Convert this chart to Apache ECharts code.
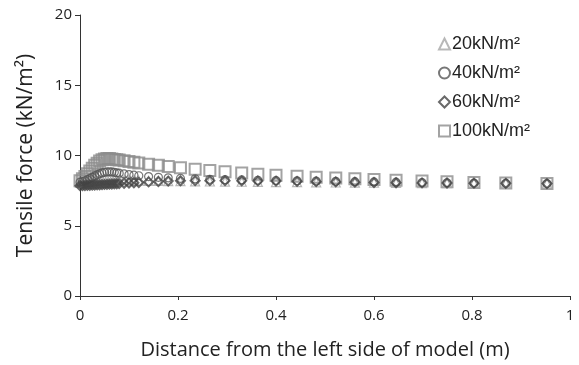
<!DOCTYPE html>
<html>
<head>
<meta charset="utf-8">
<script src="https://cdn.jsdelivr.net/npm/echarts@6/dist/echarts.min.js"></script>
<style>
  html, body { margin: 0; padding: 0; background: #fff; }
  #chart { width: 579px; height: 365px; }
</style>
</head>
<body>
<div id="chart"></div>
<script>
// distance from the left side of model (m)
const distance = [0, 0.005, 0.01, 0.015, 0.02, 0.025, 0.03, 0.035, 0.04, 0.045, 0.05, 0.055, 0.06, 0.065,
  0.07, 0.075, 0.08, 0.09, 0.1, 0.11, 0.12, 0.14, 0.16, 0.18, 0.205, 0.235, 0.265, 0.296, 0.33, 0.363,
  0.4, 0.443, 0.482, 0.522, 0.561, 0.6, 0.645, 0.698, 0.749, 0.804, 0.869, 0.953];

// tensile force (kN/m2) per surcharge
const force20 = [8.05, 8.08, 8.1, 8.12, 8.15, 8.18, 8.2, 8.22, 8.24, 8.25, 8.26, 8.27, 8.27, 8.27,
  8.26, 8.26, 8.25, 8.24, 8.23, 8.22, 8.21, 8.2, 8.19, 8.18, 8.17, 8.16, 8.15, 8.14, 8.13, 8.12,
  8.11, 8.1, 8.09, 8.08, 8.07, 8.06, 8.05, 8.04, 8.03, 8.02, 8.01, 8.0];
const force40 = [8.1, 8.15, 8.2, 8.28, 8.36, 8.45, 8.55, 8.62, 8.7, 8.76, 8.8, 8.83, 8.84, 8.83,
  8.8, 8.77, 8.74, 8.69, 8.64, 8.6, 8.56, 8.5, 8.45, 8.41, 8.37, 8.34, 8.31, 8.28, 8.26, 8.24,
  8.22, 8.2, 8.18, 8.16, 8.14, 8.12, 8.1, 8.08, 8.06, 8.04, 8.02, 8.0];
const force60 = [7.85, 7.85, 7.86, 7.87, 7.88, 7.89, 7.9, 7.91, 7.92, 7.93, 7.94, 7.95, 7.96, 7.97,
  7.98, 7.99, 8.0, 8.02, 8.04, 8.06, 8.08, 8.12, 8.15, 8.18, 8.2, 8.21, 8.21, 8.21, 8.2, 8.19,
  8.18, 8.16, 8.14, 8.12, 8.1, 8.08, 8.06, 8.05, 8.04, 8.03, 8.02, 8.0];
const force100 = [8.2, 8.35, 8.5, 8.7, 8.9, 9.1, 9.3, 9.45, 9.6, 9.7, 9.75, 9.78, 9.78, 9.75,
  9.72, 9.7, 9.68, 9.62, 9.57, 9.52, 9.47, 9.38, 9.3, 9.22, 9.12, 9.02, 8.93, 8.84, 8.75, 8.67,
  8.6, 8.52, 8.46, 8.4, 8.35, 8.3, 8.24, 8.18, 8.13, 8.08, 8.04, 8.0];

const seriesNames = ['20kN/m²', '40kN/m²', '60kN/m²', '100kN/m²'];
const yTicks = [0, 5, 10, 15, 20];
const xTicks = [0, 0.2, 0.4, 0.6, 0.8, 1];

const pair = (ys) => distance.map((x, i) => [x, ys[i]]);

const chart = echarts.init(document.getElementById('chart'), null, { renderer: 'canvas' });

const font = '"Open Sans", "Noto Sans", sans-serif';

const option = {
  backgroundColor: '#fff',
  animation: false,
  grid: { left: 80, right: 9, top: 15, bottom: 68, containLabel: false },
  legend: {
    orient: 'vertical',
    left: 433,
    top: 30,
    itemGap: 11,
    itemWidth: 11,
    itemHeight: 11,
    data: [seriesNames[0], seriesNames[1], seriesNames[2], seriesNames[3]],
    textStyle: { fontFamily: 'Liberation Sans, Arial, sans-serif', fontSize: 18, color: '#222', padding: [0, 0, 0, -3] },
  },
  xAxis: {
    type: 'value',
    min: xTicks[0],
    max: xTicks[xTicks.length - 1],
    interval: 0.2,
    name: 'Distance from the left side of model (m)',
    nameLocation: 'middle',
    nameGap: 44,
    nameTextStyle: { fontFamily: font, fontSize: 20, color: '#222' },
    axisLine: { show: true, lineStyle: { color: '#333', width: 1 } },
    axisTick: { show: true, length: 4, lineStyle: { color: '#333' } },
    axisLabel: { fontFamily: font, fontSize: 15, color: '#222', margin: 12 },
    splitLine: { show: false },
  },
  yAxis: {
    type: 'value',
    min: yTicks[0],
    max: yTicks[yTicks.length - 1],
    interval: 5,
    name: 'Tensile force (kN/m²)',
    nameLocation: 'middle',
    nameGap: 43,
    nameTextStyle: { fontFamily: font, fontSize: 21, color: '#222' },
    axisLine: { show: true, lineStyle: { color: '#333', width: 1 } },
    axisTick: { show: true, length: 5, lineStyle: { color: '#333' } },
    axisLabel: { fontFamily: font, fontSize: 15, color: '#222', margin: 8 },
    splitLine: { show: false },
  },
  series: [
    {
      name: seriesNames[3],
      type: 'scatter',
      symbol: 'rect',
      symbolSize: 11,
      z: 1,
      itemStyle: { color: 'rgba(255,255,255,0)', borderColor: '#8c8c8c', borderWidth: 2 },
      data: pair(force100),
    },
    {
      name: seriesNames[0],
      type: 'scatter',
      symbol: 'triangle',
      symbolSize: 9,
      z: 2,
      itemStyle: { color: 'rgba(255,255,255,0)', borderColor: '#a6a6a6', borderWidth: 1.2 },
      data: pair(force20),
    },
    {
      name: seriesNames[1],
      type: 'scatter',
      symbol: 'circle',
      symbolSize: 8,
      z: 3,
      itemStyle: { color: 'rgba(255,255,255,0)', borderColor: '#555', borderWidth: 1.2 },
      data: pair(force40),
    },
    {
      name: seriesNames[2],
      type: 'scatter',
      symbol: 'diamond',
      symbolSize: 9,
      z: 4,
      itemStyle: { color: 'rgba(255,255,255,0)', borderColor: '#444', borderWidth: 2 },
      data: pair(force60),
    },
  ],
};

chart.setOption(option);
window.addEventListener('resize', chart.resize);
</script>
</body>
</html>
